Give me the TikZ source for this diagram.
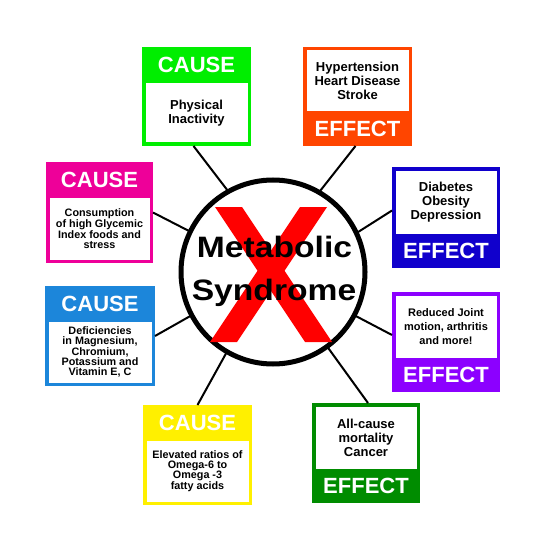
\documentclass[tikz,border=0pt]{standalone}
\usepackage{fontspec}
\setmainfont{Liberation Sans}
\definecolor{cgreen}{RGB}{0,238,0}
\definecolor{corange}{RGB}{255,69,0}
\definecolor{cmagenta}{RGB}{238,0,153}
\definecolor{cblueE}{RGB}{16,0,204}
\definecolor{cblueC}{RGB}{28,134,218}
\definecolor{cpurple}{RGB}{140,0,255}
\definecolor{cyellow}{RGB}{255,240,0}
\definecolor{cdgreen}{RGB}{0,140,0}
\definecolor{xred}{RGB}{255,0,0}
\tikzset{
  frame/.style={rectangle, inner sep=0pt, outer sep=0pt, draw=none},
  head/.style={text=white, font=\bfseries\fontsize{22}{22}\selectfont, inner sep=0pt},
  body/.style={rectangle, fill=white, inner sep=0pt, outer sep=0pt, align=center, text=black},
  bigtxt/.style={font=\bfseries\fontsize{13}{14}\selectfont},
  midtxt/.style={font=\bfseries\fontsize{11}{14}\selectfont},
  smalltxt/.style={font=\bfseries\fontsize{10.8}{10}\selectfont},
  link/.style={line width=2pt, black},
  title/.style={font=\bfseries\fontsize{29.5}{30}\selectfont, inner sep=0pt, anchor=base}
}
\newcommand\causebox[8]{%
  \node[frame, fill=#6, minimum width={#4-#2}, minimum height={#5-#3}] (#1) at ({(#2+#4)/2},{(#3+#5)/2}) {};
  \node[head] (#1h) at ({(#2+#4)/2},{#3+18}) {CAUSE};
  \node[body, #7, minimum width={#4-#2-7}, minimum height={#5-#3-39.5}] (#1b) at ({(#2+#4)/2},{(#3+36+#5-3.5)/2}) {#8};
}
\newcommand\effectbox[8]{%
  \node[frame, fill=#6, minimum width={#4-#2}, minimum height={#5-#3}] (#1) at ({(#2+#4)/2},{(#3+#5)/2}) {};
  \node[head] (#1h) at ({(#2+#4)/2},{#5-17.25}) {EFFECT};
  \node[body, #7, minimum width={#4-#2-7}, minimum height={#5-#3-38}] (#1b) at ({(#2+#4)/2},{(#3+3.5+#5-34.5)/2}) {#8};
}
\begin{document}
\begin{tikzpicture}[x=1pt,y=-1pt]
\fill[white] (0,0) rectangle (548,548);
\useasboundingbox (0,0) rectangle (548,548);

\causebox{gc}{142}{47}{251}{146}{cgreen}{bigtxt}{Physical\\Inactivity}
\effectbox{oe}{303}{47}{412}{146}{corange}{bigtxt}{Hypertension\\Heart Disease\\Stroke}
\causebox{mc}{46}{162}{153}{263}{cmagenta}{smalltxt}{Consumption\\of high Glycemic\\Index foods and\\stress}
\effectbox{be}{392}{167}{500}{268}{cblueE}{bigtxt}{Diabetes\\Obesity\\Depression}
\causebox{bc}{45}{286}{155}{386}{cblueC}{smalltxt}{Deficiencies\\in Magnesium,\\Chromium,\\Potassium and\\Vitamin E, C}
\effectbox{pe}{392}{292}{500}{392}{cpurple}{midtxt}{Reduced Joint\\motion, arthritis\\and more!}
\causebox{yc}{143}{405}{252}{505}{cyellow}{smalltxt}{Elevated ratios of\\Omega-6 to\\Omega -3\\fatty acids}
\effectbox{ge}{312}{403}{420}{503}{cdgreen}{bigtxt}{All-cause\\mortality\\Cancer}

% central circle
\node[circle, minimum size=184pt, inner sep=0pt, outer sep=0pt, draw=black, line width=5pt, fill=white] (ms) at (273,272) {};

% connectors
\draw[link] ([xshift=-3pt]gc.south) -- (ms.119);
\draw[link] ([xshift=-2pt]oe.south) -- (ms.60);
\draw[link] (mc.east) -- (ms.154);
\draw[link] ([yshift=7pt]be.west) -- (ms.25);
\draw[link] (bc.east) -- (ms.208);
\draw[link] ([yshift=7pt]pe.west) -- (ms.-28);
\draw[link] (yc.north) -- (ms.240);
\draw[link] ([xshift=2pt]ge.north) -- (ms.-54);

% red X
\fill[xred] (215,207) -- (242,207) -- (332,342) -- (305,342) -- cycle;
\fill[xred] (300,207) -- (327,207) -- (237,342) -- (210,342) -- cycle;

% title
\node[title] (t1) at (274.5,257) {\scalebox{1.14}[1]{Metabolic}};
\node[title] (t2) at (274,300) {\scalebox{1.14}[1]{Syndrome}};
\end{tikzpicture}
\end{document}
